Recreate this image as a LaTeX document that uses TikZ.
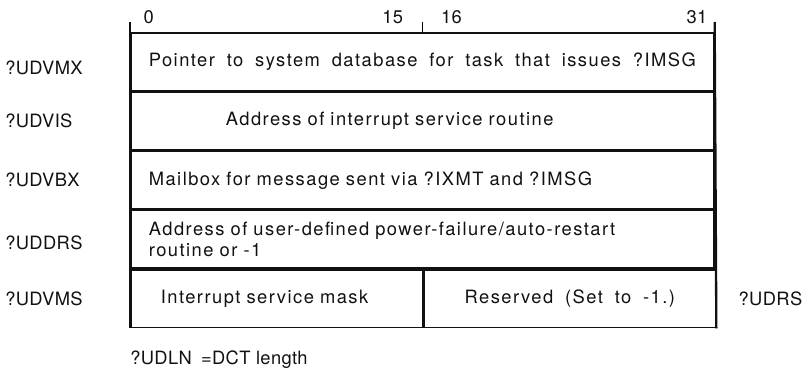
\documentclass[tikz,border=0pt]{standalone}
\usepackage{fontspec}
\setmainfont{TeX Gyre Heros}
\newfontfamily\bodyfont[LetterSpace=8,WordSpace=1.8]{TeX Gyre Heros}
\newfontfamily\tagfont[LetterSpace=2]{TeX Gyre Heros}
\usetikzlibrary{positioning,calc}
\definecolor{ink}{HTML}{111111}
\tikzset{
  every node/.style={text=ink},
  cell/.style={draw=ink,line width=1pt,minimum width=349.8pt,minimum height=34.56pt,inner sep=0pt,
    font=\fontsize{11}{12.6}\selectfont\bodyfont,align=center},
  lcell/.style={cell,align=left,text width=349.8pt-2*#1,inner xsep=#1},
  halfcell/.style={cell,minimum width=175pt},
  tag/.style={font=\fontsize{11}{12.6}\selectfont\tagfont,inner sep=0pt,anchor=west},
  bit/.style={font=\fontsize{11}{12.6}\selectfont\tagfont,inner sep=0pt},
  edge/.style={draw=ink,line width=1.4pt},
}

\begin{document}
\begin{tikzpicture}[x=0.6pt,y=0.6pt]
\useasboundingbox (0,0) rectangle (809,368);

% word rows
\node[cell,anchor=north west] (r1) at (130,336) {\raisebox{-4pt}{Pointer to system database for task that issues ?IMSG}};
\node[lcell=57pt,below=0pt of r1] (r2) {Address of interrupt service routine};
\node[lcell=10.8pt,below=0pt of r2] (r3) {Mailbox for message sent via ?IXMT and ?IMSG};
\node[lcell=10.8pt,below=0pt of r3] (r4) {Address of user-defined power-failure/auto-restart\\routine or -1};
\node[halfcell,align=left,text width=139pt,inner xsep=18pt,below=0pt of r4.south west,anchor=north west] (r5a) {Interrupt service mask};
\node[halfcell,minimum width=174.8pt,right=0pt of r5a] (r5b) {Reserved (Set to -1.)};

% outer edges and bit ticks
\coordinate (tl) at ($(r1.north west)+(0,10)$);
\coordinate (tr) at ($(r1.north east)+(0,10)$);
\draw[edge] (tl) -- (r5a.south west);
\draw[edge] (tr) -- (r5b.south east);
\draw[line width=0.8pt] (r1.north) -- ++(0,10);

% bit numbers
\node[bit,anchor=south west,xshift=8pt,yshift=4.6pt] (b0) at (r1.north west) {0};
\node[bit,anchor=south east,xshift=-11.4pt,yshift=4.6pt] (b15) at (r1.north) {15};
\node[bit,anchor=south west,xshift=11pt,yshift=4.6pt] (b16) at (r1.north) {16};
\node[bit,anchor=south east,xshift=-4.2pt,yshift=4.6pt] (b31) at (r1.north east) {31};

% mnemonics
\coordinate (lm) at (5,0);
\node[tag,yshift=-4pt] (l1) at (lm |- r1.west) {?UDVMX};
\node[tag] (l2) at (lm |- r2.west) {?UDVIS};
\node[tag] (l3) at (lm |- r3.west) {?UDVBX};
\node[tag,yshift=-2pt] (l4) at (lm |- r4.west) {?UDDRS};
\node[tag] (l5) at (lm |- r5a.west) {?UDVMS};
\node[tag,right=13.2pt of r5b] (l6) {?UDRS};

% length note
\node[tag,below=13pt of r5a.south west,anchor=north west] (len) {?UDLN\enspace =DCT length};
\end{tikzpicture}
\end{document}
